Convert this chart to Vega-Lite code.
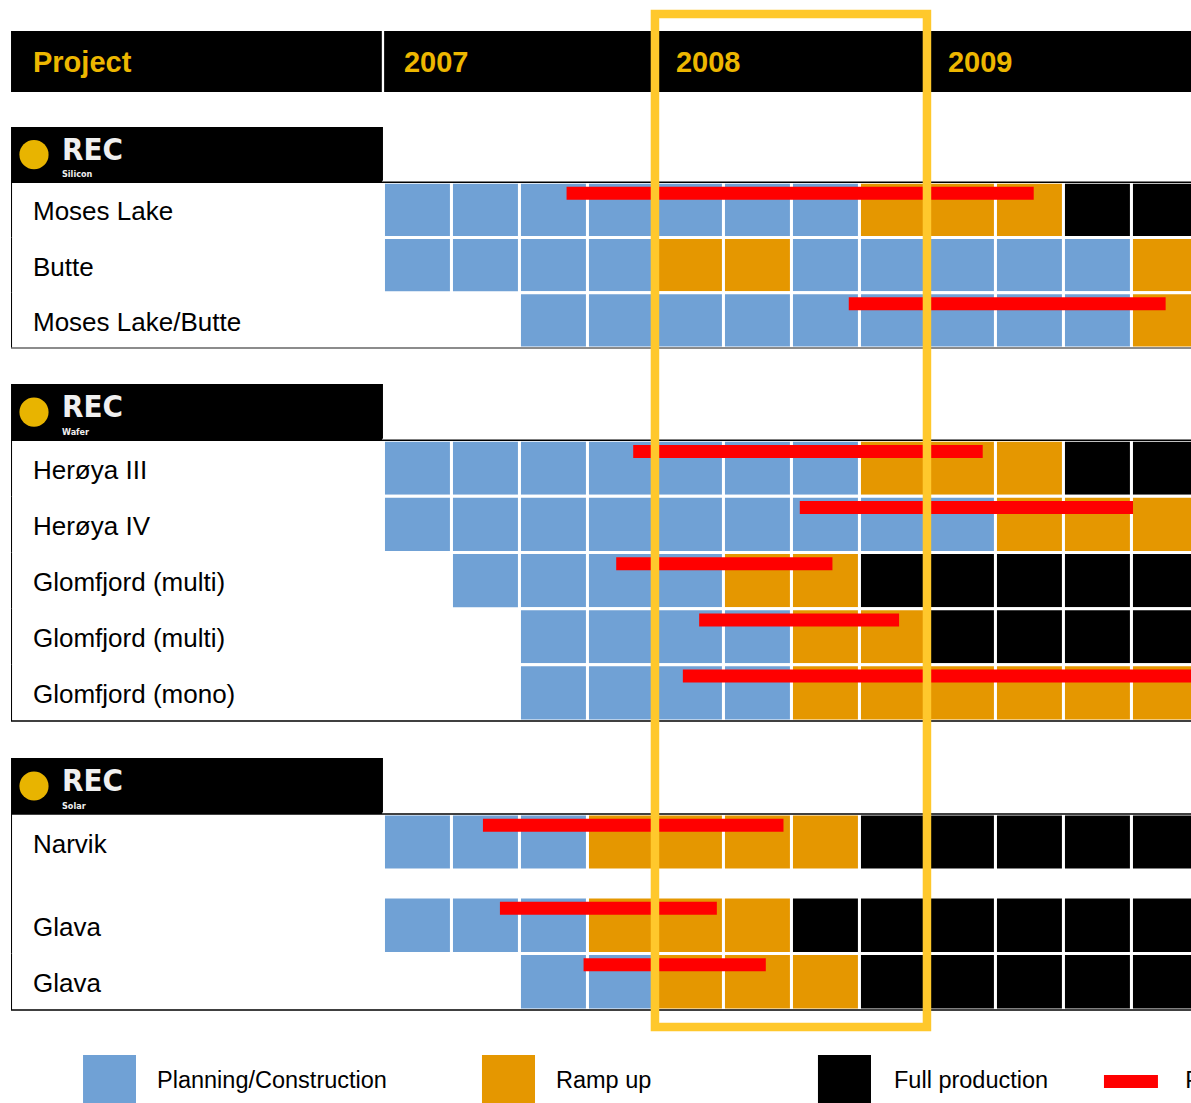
{
  "$schema": "https://vega.github.io/schema/vega-lite/v6.json",
  "width": 1191,
  "height": 1103,
  "padding": 0,
  "autosize": {"type": "none"},
  "background": "#ffffff",
  "config": {"view": {"stroke": null}, "font": "Liberation Sans"},
  "datasets": {
    "header": [{"col": "Project"}],
    "years": [
      {"year": "2007", "start": 0, "end": 4},
      {"year": "2008", "start": 4, "end": 8},
      {"year": "2009", "start": 8, "end": 12}
    ],
    "logos": [
      {"id": "logo1", "brand": "REC", "sub": "Silicon"},
      {"id": "logo2", "brand": "REC", "sub": "Wafer"},
      {"id": "logo3", "brand": "REC", "sub": "Solar"}
    ],
    "rows": [
      {"id": "Moses Lake", "label": "Moses Lake"},
      {"id": "Butte", "label": "Butte"},
      {"id": "Moses Lake/Butte", "label": "Moses Lake/Butte"},
      {"id": "Herøya III", "label": "Herøya III"},
      {"id": "Herøya IV", "label": "Herøya IV"},
      {"id": "Glomfjord (multi) A", "label": "Glomfjord (multi)"},
      {"id": "Glomfjord (multi) B", "label": "Glomfjord (multi)"},
      {"id": "Glomfjord (mono)", "label": "Glomfjord (mono)"},
      {"id": "Narvik", "label": "Narvik"},
      {"id": "Glava A", "label": "Glava"},
      {"id": "Glava B", "label": "Glava"}
    ],
    "bars": [
      {"id": "Moses Lake", "a": 2.70, "b": 9.57},
      {"id": "Moses Lake/Butte", "a": 6.85, "b": 11.51},
      {"id": "Herøya III", "a": 3.68, "b": 8.82},
      {"id": "Herøya IV", "a": 6.13, "b": 11.03},
      {"id": "Glomfjord (multi) A", "a": 3.43, "b": 6.61},
      {"id": "Glomfjord (multi) B", "a": 4.65, "b": 7.59},
      {"id": "Glomfjord (mono)", "a": 4.41, "b": 12.2},
      {"id": "Narvik", "a": 1.47, "b": 5.89},
      {"id": "Glava A", "a": 1.72, "b": 4.91},
      {"id": "Glava B", "a": 2.95, "b": 5.63}
    ],
    "legend": [
      {"s": "P", "label": "Planning/Construction"},
      {"s": "R", "label": "Ramp up"},
      {"s": "F", "label": "Full production"},
      {"s": "D", "label": "Previous schedule"}
    ],
    "cells": [
      {"id": "Moses Lake", "q": 0, "s": "P"}, {"id": "Moses Lake", "q": 1, "s": "P"}, {"id": "Moses Lake", "q": 2, "s": "P"}, {"id": "Moses Lake", "q": 3, "s": "P"}, {"id": "Moses Lake", "q": 4, "s": "P"}, {"id": "Moses Lake", "q": 5, "s": "P"}, {"id": "Moses Lake", "q": 6, "s": "P"}, {"id": "Moses Lake", "q": 7, "s": "R"}, {"id": "Moses Lake", "q": 8, "s": "R"}, {"id": "Moses Lake", "q": 9, "s": "R"}, {"id": "Moses Lake", "q": 10, "s": "F"}, {"id": "Moses Lake", "q": 11, "s": "F"},
      {"id": "Butte", "q": 0, "s": "P"}, {"id": "Butte", "q": 1, "s": "P"}, {"id": "Butte", "q": 2, "s": "P"}, {"id": "Butte", "q": 3, "s": "P"}, {"id": "Butte", "q": 4, "s": "R"}, {"id": "Butte", "q": 5, "s": "R"}, {"id": "Butte", "q": 6, "s": "P"}, {"id": "Butte", "q": 7, "s": "P"}, {"id": "Butte", "q": 8, "s": "P"}, {"id": "Butte", "q": 9, "s": "P"}, {"id": "Butte", "q": 10, "s": "P"}, {"id": "Butte", "q": 11, "s": "R"},
      {"id": "Moses Lake/Butte", "q": 2, "s": "P"}, {"id": "Moses Lake/Butte", "q": 3, "s": "P"}, {"id": "Moses Lake/Butte", "q": 4, "s": "P"}, {"id": "Moses Lake/Butte", "q": 5, "s": "P"}, {"id": "Moses Lake/Butte", "q": 6, "s": "P"}, {"id": "Moses Lake/Butte", "q": 7, "s": "P"}, {"id": "Moses Lake/Butte", "q": 8, "s": "P"}, {"id": "Moses Lake/Butte", "q": 9, "s": "P"}, {"id": "Moses Lake/Butte", "q": 10, "s": "P"}, {"id": "Moses Lake/Butte", "q": 11, "s": "R"},
      {"id": "Herøya III", "q": 0, "s": "P"}, {"id": "Herøya III", "q": 1, "s": "P"}, {"id": "Herøya III", "q": 2, "s": "P"}, {"id": "Herøya III", "q": 3, "s": "P"}, {"id": "Herøya III", "q": 4, "s": "P"}, {"id": "Herøya III", "q": 5, "s": "P"}, {"id": "Herøya III", "q": 6, "s": "P"}, {"id": "Herøya III", "q": 7, "s": "R"}, {"id": "Herøya III", "q": 8, "s": "R"}, {"id": "Herøya III", "q": 9, "s": "R"}, {"id": "Herøya III", "q": 10, "s": "F"}, {"id": "Herøya III", "q": 11, "s": "F"},
      {"id": "Herøya IV", "q": 0, "s": "P"}, {"id": "Herøya IV", "q": 1, "s": "P"}, {"id": "Herøya IV", "q": 2, "s": "P"}, {"id": "Herøya IV", "q": 3, "s": "P"}, {"id": "Herøya IV", "q": 4, "s": "P"}, {"id": "Herøya IV", "q": 5, "s": "P"}, {"id": "Herøya IV", "q": 6, "s": "P"}, {"id": "Herøya IV", "q": 7, "s": "P"}, {"id": "Herøya IV", "q": 8, "s": "P"}, {"id": "Herøya IV", "q": 9, "s": "R"}, {"id": "Herøya IV", "q": 10, "s": "R"}, {"id": "Herøya IV", "q": 11, "s": "R"},
      {"id": "Glomfjord (multi) A", "q": 1, "s": "P"}, {"id": "Glomfjord (multi) A", "q": 2, "s": "P"}, {"id": "Glomfjord (multi) A", "q": 3, "s": "P"}, {"id": "Glomfjord (multi) A", "q": 4, "s": "P"}, {"id": "Glomfjord (multi) A", "q": 5, "s": "R"}, {"id": "Glomfjord (multi) A", "q": 6, "s": "R"}, {"id": "Glomfjord (multi) A", "q": 7, "s": "F"}, {"id": "Glomfjord (multi) A", "q": 8, "s": "F"}, {"id": "Glomfjord (multi) A", "q": 9, "s": "F"}, {"id": "Glomfjord (multi) A", "q": 10, "s": "F"}, {"id": "Glomfjord (multi) A", "q": 11, "s": "F"},
      {"id": "Glomfjord (multi) B", "q": 2, "s": "P"}, {"id": "Glomfjord (multi) B", "q": 3, "s": "P"}, {"id": "Glomfjord (multi) B", "q": 4, "s": "P"}, {"id": "Glomfjord (multi) B", "q": 5, "s": "P"}, {"id": "Glomfjord (multi) B", "q": 6, "s": "R"}, {"id": "Glomfjord (multi) B", "q": 7, "s": "R"}, {"id": "Glomfjord (multi) B", "q": 8, "s": "F"}, {"id": "Glomfjord (multi) B", "q": 9, "s": "F"}, {"id": "Glomfjord (multi) B", "q": 10, "s": "F"}, {"id": "Glomfjord (multi) B", "q": 11, "s": "F"},
      {"id": "Glomfjord (mono)", "q": 2, "s": "P"}, {"id": "Glomfjord (mono)", "q": 3, "s": "P"}, {"id": "Glomfjord (mono)", "q": 4, "s": "P"}, {"id": "Glomfjord (mono)", "q": 5, "s": "P"}, {"id": "Glomfjord (mono)", "q": 6, "s": "R"}, {"id": "Glomfjord (mono)", "q": 7, "s": "R"}, {"id": "Glomfjord (mono)", "q": 8, "s": "R"}, {"id": "Glomfjord (mono)", "q": 9, "s": "R"}, {"id": "Glomfjord (mono)", "q": 10, "s": "R"}, {"id": "Glomfjord (mono)", "q": 11, "s": "R"},
      {"id": "Narvik", "q": 0, "s": "P"}, {"id": "Narvik", "q": 1, "s": "P"}, {"id": "Narvik", "q": 2, "s": "P"}, {"id": "Narvik", "q": 3, "s": "R"}, {"id": "Narvik", "q": 4, "s": "R"}, {"id": "Narvik", "q": 5, "s": "R"}, {"id": "Narvik", "q": 6, "s": "R"}, {"id": "Narvik", "q": 7, "s": "F"}, {"id": "Narvik", "q": 8, "s": "F"}, {"id": "Narvik", "q": 9, "s": "F"}, {"id": "Narvik", "q": 10, "s": "F"}, {"id": "Narvik", "q": 11, "s": "F"},
      {"id": "Glava A", "q": 0, "s": "P"}, {"id": "Glava A", "q": 1, "s": "P"}, {"id": "Glava A", "q": 2, "s": "P"}, {"id": "Glava A", "q": 3, "s": "R"}, {"id": "Glava A", "q": 4, "s": "R"}, {"id": "Glava A", "q": 5, "s": "R"}, {"id": "Glava A", "q": 6, "s": "F"}, {"id": "Glava A", "q": 7, "s": "F"}, {"id": "Glava A", "q": 8, "s": "F"}, {"id": "Glava A", "q": 9, "s": "F"}, {"id": "Glava A", "q": 10, "s": "F"}, {"id": "Glava A", "q": 11, "s": "F"},
      {"id": "Glava B", "q": 2, "s": "P"}, {"id": "Glava B", "q": 3, "s": "P"}, {"id": "Glava B", "q": 4, "s": "R"}, {"id": "Glava B", "q": 5, "s": "R"}, {"id": "Glava B", "q": 6, "s": "R"}, {"id": "Glava B", "q": 7, "s": "F"}, {"id": "Glava B", "q": 8, "s": "F"}, {"id": "Glava B", "q": 9, "s": "F"}, {"id": "Glava B", "q": 10, "s": "F"}, {"id": "Glava B", "q": 11, "s": "F"}
    ]
  },
  "resolve": {"scale": {"y": "independent"}},
  "layer": [
    {
      "encoding": {"y": {"datum": "header", "type": "nominal", "scale": {"domain": ["header"], "range": [31, 92], "paddingInner": 0, "paddingOuter": 0}, "axis": null}},
      "layer": [
        {"data": {"name": "header"}, "mark": {"type": "rect", "color": "#000000"},
         "encoding": {"x": {"datum": -5.47, "type": "quantitative", "scale": {"domain": [-5.632, 11.883], "nice": false, "zero": false}, "axis": null}, "x2": {"datum": 12}}},
        {"data": {"name": "header"}, "mark": {"type": "rect", "color": "#ffffff"},
         "encoding": {"x": {"datum": -0.017, "type": "quantitative", "scale": {"domain": [-5.632, 11.883], "nice": false, "zero": false}, "axis": null}, "x2": {"datum": 0.017}}},
        {"data": {"name": "header"}, "mark": {"type": "text", "align": "left", "baseline": "middle", "dy": 1, "fontSize": 29, "fontWeight": "bold", "color": "#EDB700"},
         "encoding": {"x": {"datum": -5.147, "type": "quantitative", "scale": {"domain": [-5.632, 11.883], "nice": false, "zero": false}, "axis": null}, "text": {"field": "col"}}},
        {"data": {"name": "years"}, "mark": {"type": "text", "align": "left", "baseline": "middle", "dx": 21, "dy": 1, "fontSize": 29, "fontWeight": "bold", "color": "#EDB700"},
         "encoding": {"x": {"field": "start", "type": "quantitative", "scale": {"domain": [-5.632, 11.883], "nice": false, "zero": false}, "axis": null}, "text": {"field": "year"}}}
      ]
    },
    {
      "encoding": {"y": {"field": "id", "type": "nominal", "scale": {"domain": ["logo1", "Moses Lake", "Butte", "Moses Lake/Butte"], "range": [127, 348], "paddingInner": 0, "paddingOuter": 0}, "axis": null}},
      "layer": [
        {"data": {"name": "logos"}, "transform": [{"filter": {"field": "id", "equal": "logo1"}}], "mark": {"type": "rect", "color": "#000000"},
         "encoding": {"x": {"datum": -5.47, "type": "quantitative", "scale": {"domain": [-5.632, 11.883], "nice": false, "zero": false}, "axis": null}, "x2": {"datum": 0}}},
        {"data": {"name": "logos"}, "transform": [{"filter": {"field": "id", "equal": "logo1"}}], "mark": {"type": "point", "shape": "circle", "filled": true, "opacity": 1, "size": 850, "color": "#E8B400"},
         "encoding": {"x": {"datum": -5.132, "type": "quantitative", "scale": {"domain": [-5.632, 11.883], "nice": false, "zero": false}, "axis": null}}},
        {"data": {"name": "logos"}, "transform": [{"filter": {"field": "id", "equal": "logo1"}}], "mark": {"type": "text", "align": "left", "baseline": "middle", "dy": -4, "font": "'Liberation Sans Narrow', 'DejaVu Sans Condensed', 'Liberation Sans', sans-serif", "fontSize": 31, "fontWeight": "bold", "color": "#F0F0F0"},
         "encoding": {"x": {"datum": -4.72, "type": "quantitative", "scale": {"domain": [-5.632, 11.883], "nice": false, "zero": false}, "axis": null}, "text": {"field": "brand"}}},
        {"data": {"name": "logos"}, "transform": [{"filter": {"field": "id", "equal": "logo1"}}], "mark": {"type": "text", "align": "left", "baseline": "middle", "dy": 19.5, "font": "'Liberation Sans Narrow', 'DejaVu Sans Condensed', 'Liberation Sans', sans-serif", "fontSize": 9, "fontWeight": "bold", "color": "#F0F0F0"},
         "encoding": {"x": {"datum": -4.72, "type": "quantitative", "scale": {"domain": [-5.632, 11.883], "nice": false, "zero": false}, "axis": null}, "text": {"field": "sub"}}},
        {"data": {"name": "cells"}, "transform": [{"filter": {"field": "id", "oneOf": ["Moses Lake", "Butte", "Moses Lake/Butte"]}}], "mark": {"type": "rect", "stroke": "#ffffff", "strokeWidth": 3},
         "encoding": {"x": {"field": "q", "type": "quantitative", "bin": {"step": 1, "extent": [0, 12]}, "scale": {"domain": [-5.632, 11.883], "nice": false, "zero": false}, "axis": null},
                      "color": {"field": "s", "type": "nominal", "scale": {"domain": ["P", "R", "F"], "range": ["#70A1D5", "#E59700", "#000000"]}, "legend": null}}},
        {"data": {"name": "rows"}, "transform": [{"filter": {"field": "id", "oneOf": ["Moses Lake", "Butte", "Moses Lake/Butte"]}}], "mark": {"type": "rect", "color": "#000000"},
         "encoding": {"x": {"datum": -5.47, "type": "quantitative", "scale": {"domain": [-5.632, 11.883], "nice": false, "zero": false}, "axis": null}, "x2": {"datum": -5.455}}},
        {"data": {"name": "rows"}, "transform": [{"filter": {"field": "id", "equal": "Moses Lake"}}], "mark": {"type": "rule", "color": "#000000", "strokeWidth": 1.5},
         "encoding": {"y": {"field": "id", "type": "nominal", "bandPosition": 0, "axis": null}, "x": {"datum": -5.47, "type": "quantitative", "scale": {"domain": [-5.632, 11.883], "nice": false, "zero": false}, "axis": null}, "x2": {"datum": 12}}},
        {"data": {"name": "rows"}, "transform": [{"filter": {"field": "id", "equal": "Moses Lake/Butte"}}], "mark": {"type": "rule", "color": "#666666", "strokeWidth": 1.5},
         "encoding": {"y": {"field": "id", "type": "nominal", "bandPosition": 1, "axis": null}, "x": {"datum": -5.47, "type": "quantitative", "scale": {"domain": [-5.632, 11.883], "nice": false, "zero": false}, "axis": null}, "x2": {"datum": 12}}},
        {"data": {"name": "rows"}, "transform": [{"filter": {"field": "id", "oneOf": ["Moses Lake", "Butte", "Moses Lake/Butte"]}}], "mark": {"type": "text", "align": "left", "baseline": "middle", "dy": 2.5, "fontSize": 26, "color": "#000000"},
         "encoding": {"x": {"datum": -5.147, "type": "quantitative", "scale": {"domain": [-5.632, 11.883], "nice": false, "zero": false}, "axis": null}, "text": {"field": "label"}}},
        {"data": {"name": "bars"}, "transform": [{"filter": {"field": "id", "oneOf": ["Moses Lake", "Butte", "Moses Lake/Butte"]}}], "mark": {"type": "rule", "color": "#FF0000", "strokeWidth": 13, "strokeCap": "butt"},
         "encoding": {"y": {"field": "id", "type": "nominal", "bandPosition": 0.2, "axis": null}, "x": {"field": "a", "type": "quantitative", "scale": {"domain": [-5.632, 11.883], "nice": false, "zero": false}, "axis": null}, "x2": {"field": "b"}}}
      ]
    },
    {
      "encoding": {"y": {"field": "id", "type": "nominal", "scale": {"domain": ["logo2", "Herøya III", "Herøya IV", "Glomfjord (multi) A", "Glomfjord (multi) B", "Glomfjord (mono)"], "range": [384, 721], "paddingInner": 0, "paddingOuter": 0}, "axis": null}},
      "layer": [
        {"data": {"name": "logos"}, "transform": [{"filter": {"field": "id", "equal": "logo2"}}], "mark": {"type": "rect", "color": "#000000"},
         "encoding": {"x": {"datum": -5.47, "type": "quantitative", "scale": {"domain": [-5.632, 11.883], "nice": false, "zero": false}, "axis": null}, "x2": {"datum": 0}}},
        {"data": {"name": "logos"}, "transform": [{"filter": {"field": "id", "equal": "logo2"}}], "mark": {"type": "point", "shape": "circle", "filled": true, "opacity": 1, "size": 850, "color": "#E8B400"},
         "encoding": {"x": {"datum": -5.132, "type": "quantitative", "scale": {"domain": [-5.632, 11.883], "nice": false, "zero": false}, "axis": null}}},
        {"data": {"name": "logos"}, "transform": [{"filter": {"field": "id", "equal": "logo2"}}], "mark": {"type": "text", "align": "left", "baseline": "middle", "dy": -4, "font": "'Liberation Sans Narrow', 'DejaVu Sans Condensed', 'Liberation Sans', sans-serif", "fontSize": 31, "fontWeight": "bold", "color": "#F0F0F0"},
         "encoding": {"x": {"datum": -4.72, "type": "quantitative", "scale": {"domain": [-5.632, 11.883], "nice": false, "zero": false}, "axis": null}, "text": {"field": "brand"}}},
        {"data": {"name": "logos"}, "transform": [{"filter": {"field": "id", "equal": "logo2"}}], "mark": {"type": "text", "align": "left", "baseline": "middle", "dy": 19.5, "font": "'Liberation Sans Narrow', 'DejaVu Sans Condensed', 'Liberation Sans', sans-serif", "fontSize": 9, "fontWeight": "bold", "color": "#F0F0F0"},
         "encoding": {"x": {"datum": -4.72, "type": "quantitative", "scale": {"domain": [-5.632, 11.883], "nice": false, "zero": false}, "axis": null}, "text": {"field": "sub"}}},
        {"data": {"name": "cells"}, "transform": [{"filter": {"field": "id", "oneOf": ["Herøya III", "Herøya IV", "Glomfjord (multi) A", "Glomfjord (multi) B", "Glomfjord (mono)"]}}], "mark": {"type": "rect", "stroke": "#ffffff", "strokeWidth": 3},
         "encoding": {"x": {"field": "q", "type": "quantitative", "bin": {"step": 1, "extent": [0, 12]}, "scale": {"domain": [-5.632, 11.883], "nice": false, "zero": false}, "axis": null},
                      "color": {"field": "s", "type": "nominal", "scale": {"domain": ["P", "R", "F"], "range": ["#70A1D5", "#E59700", "#000000"]}, "legend": null}}},
        {"data": {"name": "rows"}, "transform": [{"filter": {"field": "id", "oneOf": ["Herøya III", "Herøya IV", "Glomfjord (multi) A", "Glomfjord (multi) B", "Glomfjord (mono)"]}}], "mark": {"type": "rect", "color": "#000000"},
         "encoding": {"x": {"datum": -5.47, "type": "quantitative", "scale": {"domain": [-5.632, 11.883], "nice": false, "zero": false}, "axis": null}, "x2": {"datum": -5.455}}},
        {"data": {"name": "rows"}, "transform": [{"filter": {"field": "id", "equal": "Herøya III"}}], "mark": {"type": "rule", "color": "#000000", "strokeWidth": 1.5},
         "encoding": {"y": {"field": "id", "type": "nominal", "bandPosition": 0, "axis": null}, "x": {"datum": -5.47, "type": "quantitative", "scale": {"domain": [-5.632, 11.883], "nice": false, "zero": false}, "axis": null}, "x2": {"datum": 12}}},
        {"data": {"name": "rows"}, "transform": [{"filter": {"field": "id", "equal": "Glomfjord (mono)"}}], "mark": {"type": "rule", "color": "#000000", "strokeWidth": 1.5},
         "encoding": {"y": {"field": "id", "type": "nominal", "bandPosition": 1, "axis": null}, "x": {"datum": -5.47, "type": "quantitative", "scale": {"domain": [-5.632, 11.883], "nice": false, "zero": false}, "axis": null}, "x2": {"datum": 12}}},
        {"data": {"name": "rows"}, "transform": [{"filter": {"field": "id", "oneOf": ["Herøya III", "Herøya IV", "Glomfjord (multi) A", "Glomfjord (multi) B", "Glomfjord (mono)"]}}], "mark": {"type": "text", "align": "left", "baseline": "middle", "dy": 2.5, "fontSize": 26, "color": "#000000"},
         "encoding": {"x": {"datum": -5.147, "type": "quantitative", "scale": {"domain": [-5.632, 11.883], "nice": false, "zero": false}, "axis": null}, "text": {"field": "label"}}},
        {"data": {"name": "bars"}, "transform": [{"filter": {"field": "id", "oneOf": ["Herøya III", "Herøya IV", "Glomfjord (multi) A", "Glomfjord (multi) B", "Glomfjord (mono)"]}}], "mark": {"type": "rule", "color": "#FF0000", "strokeWidth": 13, "strokeCap": "butt"},
         "encoding": {"y": {"field": "id", "type": "nominal", "bandPosition": 0.2, "axis": null}, "x": {"field": "a", "type": "quantitative", "scale": {"domain": [-5.632, 11.883], "nice": false, "zero": false}, "axis": null}, "x2": {"field": "b"}}}
      ]
    },
    {
      "encoding": {"y": {"field": "id", "type": "nominal", "scale": {"domain": ["logo3", "Narvik"], "range": [758, 870], "paddingInner": 0, "paddingOuter": 0}, "axis": null}},
      "layer": [
        {"data": {"name": "logos"}, "transform": [{"filter": {"field": "id", "equal": "logo3"}}], "mark": {"type": "rect", "color": "#000000"},
         "encoding": {"x": {"datum": -5.47, "type": "quantitative", "scale": {"domain": [-5.632, 11.883], "nice": false, "zero": false}, "axis": null}, "x2": {"datum": 0}}},
        {"data": {"name": "logos"}, "transform": [{"filter": {"field": "id", "equal": "logo3"}}], "mark": {"type": "point", "shape": "circle", "filled": true, "opacity": 1, "size": 850, "color": "#E8B400"},
         "encoding": {"x": {"datum": -5.132, "type": "quantitative", "scale": {"domain": [-5.632, 11.883], "nice": false, "zero": false}, "axis": null}}},
        {"data": {"name": "logos"}, "transform": [{"filter": {"field": "id", "equal": "logo3"}}], "mark": {"type": "text", "align": "left", "baseline": "middle", "dy": -4, "font": "'Liberation Sans Narrow', 'DejaVu Sans Condensed', 'Liberation Sans', sans-serif", "fontSize": 31, "fontWeight": "bold", "color": "#F0F0F0"},
         "encoding": {"x": {"datum": -4.72, "type": "quantitative", "scale": {"domain": [-5.632, 11.883], "nice": false, "zero": false}, "axis": null}, "text": {"field": "brand"}}},
        {"data": {"name": "logos"}, "transform": [{"filter": {"field": "id", "equal": "logo3"}}], "mark": {"type": "text", "align": "left", "baseline": "middle", "dy": 19.5, "font": "'Liberation Sans Narrow', 'DejaVu Sans Condensed', 'Liberation Sans', sans-serif", "fontSize": 9, "fontWeight": "bold", "color": "#F0F0F0"},
         "encoding": {"x": {"datum": -4.72, "type": "quantitative", "scale": {"domain": [-5.632, 11.883], "nice": false, "zero": false}, "axis": null}, "text": {"field": "sub"}}},
        {"data": {"name": "cells"}, "transform": [{"filter": {"field": "id", "oneOf": ["Narvik"]}}], "mark": {"type": "rect", "stroke": "#ffffff", "strokeWidth": 3},
         "encoding": {"x": {"field": "q", "type": "quantitative", "bin": {"step": 1, "extent": [0, 12]}, "scale": {"domain": [-5.632, 11.883], "nice": false, "zero": false}, "axis": null},
                      "color": {"field": "s", "type": "nominal", "scale": {"domain": ["P", "R", "F"], "range": ["#70A1D5", "#E59700", "#000000"]}, "legend": null}}},
        {"data": {"name": "rows"}, "transform": [{"filter": {"field": "id", "oneOf": ["Narvik"]}}], "mark": {"type": "rect", "color": "#000000"},
         "encoding": {"x": {"datum": -5.47, "type": "quantitative", "scale": {"domain": [-5.632, 11.883], "nice": false, "zero": false}, "axis": null}, "x2": {"datum": -5.455}}},
        {"data": {"name": "rows"}, "transform": [{"filter": {"field": "id", "equal": "Narvik"}}], "mark": {"type": "rule", "color": "#000000", "strokeWidth": 1.5},
         "encoding": {"y": {"field": "id", "type": "nominal", "bandPosition": 0, "axis": null}, "x": {"datum": -5.47, "type": "quantitative", "scale": {"domain": [-5.632, 11.883], "nice": false, "zero": false}, "axis": null}, "x2": {"datum": 12}}},
        {"data": {"name": "rows"}, "transform": [{"filter": {"field": "id", "oneOf": ["Narvik"]}}], "mark": {"type": "text", "align": "left", "baseline": "middle", "dy": 2.5, "fontSize": 26, "color": "#000000"},
         "encoding": {"x": {"datum": -5.147, "type": "quantitative", "scale": {"domain": [-5.632, 11.883], "nice": false, "zero": false}, "axis": null}, "text": {"field": "label"}}},
        {"data": {"name": "bars"}, "transform": [{"filter": {"field": "id", "oneOf": ["Narvik"]}}], "mark": {"type": "rule", "color": "#FF0000", "strokeWidth": 13, "strokeCap": "butt"},
         "encoding": {"y": {"field": "id", "type": "nominal", "bandPosition": 0.2, "axis": null}, "x": {"field": "a", "type": "quantitative", "scale": {"domain": [-5.632, 11.883], "nice": false, "zero": false}, "axis": null}, "x2": {"field": "b"}}}
      ]
    },
    {
      "data": {"name": "logos"},
      "transform": [{"filter": {"field": "id", "equal": "logo3"}}],
      "mark": {"type": "rect", "color": "#000000"},
      "encoding": {"y": {"datum": "gap", "type": "nominal", "scale": {"domain": ["gap"], "range": [870, 897], "paddingInner": 0, "paddingOuter": 0}, "axis": null},
                   "x": {"datum": -5.47, "type": "quantitative", "scale": {"domain": [-5.632, 11.883], "nice": false, "zero": false}, "axis": null}, "x2": {"datum": -5.455}}
    },
    {
      "encoding": {"y": {"field": "id", "type": "nominal", "scale": {"domain": ["Glava A", "Glava B"], "range": [897, 1010], "paddingInner": 0, "paddingOuter": 0}, "axis": null}},
      "layer": [
        {"data": {"name": "cells"}, "transform": [{"filter": {"field": "id", "oneOf": ["Glava A", "Glava B"]}}], "mark": {"type": "rect", "stroke": "#ffffff", "strokeWidth": 3},
         "encoding": {"x": {"field": "q", "type": "quantitative", "bin": {"step": 1, "extent": [0, 12]}, "scale": {"domain": [-5.632, 11.883], "nice": false, "zero": false}, "axis": null},
                      "color": {"field": "s", "type": "nominal", "scale": {"domain": ["P", "R", "F"], "range": ["#70A1D5", "#E59700", "#000000"]}, "legend": null}}},
        {"data": {"name": "rows"}, "transform": [{"filter": {"field": "id", "oneOf": ["Glava A", "Glava B"]}}], "mark": {"type": "rect", "color": "#000000"},
         "encoding": {"x": {"datum": -5.47, "type": "quantitative", "scale": {"domain": [-5.632, 11.883], "nice": false, "zero": false}, "axis": null}, "x2": {"datum": -5.455}}},
        {"data": {"name": "rows"}, "transform": [{"filter": {"field": "id", "equal": "Glava B"}}], "mark": {"type": "rule", "color": "#000000", "strokeWidth": 1.5},
         "encoding": {"y": {"field": "id", "type": "nominal", "bandPosition": 1, "axis": null}, "x": {"datum": -5.47, "type": "quantitative", "scale": {"domain": [-5.632, 11.883], "nice": false, "zero": false}, "axis": null}, "x2": {"datum": 12}}},
        {"data": {"name": "rows"}, "transform": [{"filter": {"field": "id", "oneOf": ["Glava A", "Glava B"]}}], "mark": {"type": "text", "align": "left", "baseline": "middle", "dy": 2.5, "fontSize": 26, "color": "#000000"},
         "encoding": {"x": {"datum": -5.147, "type": "quantitative", "scale": {"domain": [-5.632, 11.883], "nice": false, "zero": false}, "axis": null}, "text": {"field": "label"}}},
        {"data": {"name": "bars"}, "transform": [{"filter": {"field": "id", "oneOf": ["Glava A", "Glava B"]}}], "mark": {"type": "rule", "color": "#FF0000", "strokeWidth": 13, "strokeCap": "butt"},
         "encoding": {"y": {"field": "id", "type": "nominal", "bandPosition": 0.2, "axis": null}, "x": {"field": "a", "type": "quantitative", "scale": {"domain": [-5.632, 11.883], "nice": false, "zero": false}, "axis": null}, "x2": {"field": "b"}}}
      ]
    },
    {
      "data": {"name": "legend"},
      "encoding": {"y": {"datum": "legend", "type": "nominal", "scale": {"domain": ["legend"], "range": [1055, 1103], "paddingInner": 0, "paddingOuter": 0}, "axis": null}},
      "layer": [
        {"transform": [{"filter": {"field": "s", "equal": "P"}}], "mark": {"type": "rect"},
         "encoding": {"x": {"datum": -4.411, "type": "quantitative", "scale": {"domain": [-5.632, 11.883], "nice": false, "zero": false}, "axis": null}, "x2": {"datum": -3.632},
                      "color": {"field": "s", "type": "nominal", "scale": {"domain": ["P", "R", "F"], "range": ["#70A1D5", "#E59700", "#000000"]}, "legend": null}}},
        {"transform": [{"filter": {"field": "s", "equal": "R"}}], "mark": {"type": "rect"},
         "encoding": {"x": {"datum": 1.456, "type": "quantitative", "scale": {"domain": [-5.632, 11.883], "nice": false, "zero": false}, "axis": null}, "x2": {"datum": 2.236},
                      "color": {"field": "s", "type": "nominal", "scale": {"domain": ["P", "R", "F"], "range": ["#70A1D5", "#E59700", "#000000"]}, "legend": null}}},
        {"transform": [{"filter": {"field": "s", "equal": "F"}}], "mark": {"type": "rect"},
         "encoding": {"x": {"datum": 6.397, "type": "quantitative", "scale": {"domain": [-5.632, 11.883], "nice": false, "zero": false}, "axis": null}, "x2": {"datum": 7.177},
                      "color": {"field": "s", "type": "nominal", "scale": {"domain": ["P", "R", "F"], "range": ["#70A1D5", "#E59700", "#000000"]}, "legend": null}}},
        {"transform": [{"filter": {"field": "s", "equal": "D"}}], "mark": {"type": "rule", "color": "#FF0000", "strokeWidth": 13, "strokeCap": "butt"},
         "encoding": {"y": {"datum": "legend", "type": "nominal", "bandPosition": 0.55, "axis": null},
                      "x": {"datum": 10.603, "type": "quantitative", "scale": {"domain": [-5.632, 11.883], "nice": false, "zero": false}, "axis": null}, "x2": {"datum": 11.397}}},
        {"transform": [{"filter": {"field": "s", "equal": "P"}}], "mark": {"type": "text", "align": "left", "baseline": "middle", "dy": 2, "fontSize": 23.5, "color": "#000000"},
         "encoding": {"x": {"datum": -3.323, "type": "quantitative", "scale": {"domain": [-5.632, 11.883], "nice": false, "zero": false}, "axis": null}, "text": {"field": "label"}}},
        {"transform": [{"filter": {"field": "s", "equal": "R"}}], "mark": {"type": "text", "align": "left", "baseline": "middle", "dy": 2, "fontSize": 23.5, "color": "#000000"},
         "encoding": {"x": {"datum": 2.544, "type": "quantitative", "scale": {"domain": [-5.632, 11.883], "nice": false, "zero": false}, "axis": null}, "text": {"field": "label"}}},
        {"transform": [{"filter": {"field": "s", "equal": "F"}}], "mark": {"type": "text", "align": "left", "baseline": "middle", "dy": 2, "fontSize": 23.5, "color": "#000000"},
         "encoding": {"x": {"datum": 7.515, "type": "quantitative", "scale": {"domain": [-5.632, 11.883], "nice": false, "zero": false}, "axis": null}, "text": {"field": "label"}}},
        {"transform": [{"filter": {"field": "s", "equal": "D"}}], "mark": {"type": "text", "align": "left", "baseline": "middle", "dy": 2, "fontSize": 23.5, "color": "#000000"},
         "encoding": {"x": {"datum": 11.8, "type": "quantitative", "scale": {"domain": [-5.632, 11.883], "nice": false, "zero": false}, "axis": null}, "text": {"field": "label"}}}
      ]
    },
    {
      "data": {"name": "years"},
      "transform": [{"filter": {"field": "year", "equal": "2008"}}],
      "mark": {"type": "rect", "fill": "transparent", "stroke": "#FFC82C", "strokeWidth": 8.5},
      "encoding": {"y": {"datum": "box", "type": "nominal", "scale": {"domain": ["box"], "range": [14, 1027], "paddingInner": 0, "paddingOuter": 0}, "axis": null},
                   "x": {"field": "start", "type": "quantitative", "scale": {"domain": [-5.632, 11.883], "nice": false, "zero": false}, "axis": null}, "x2": {"field": "end"}}
    }
  ]
}
